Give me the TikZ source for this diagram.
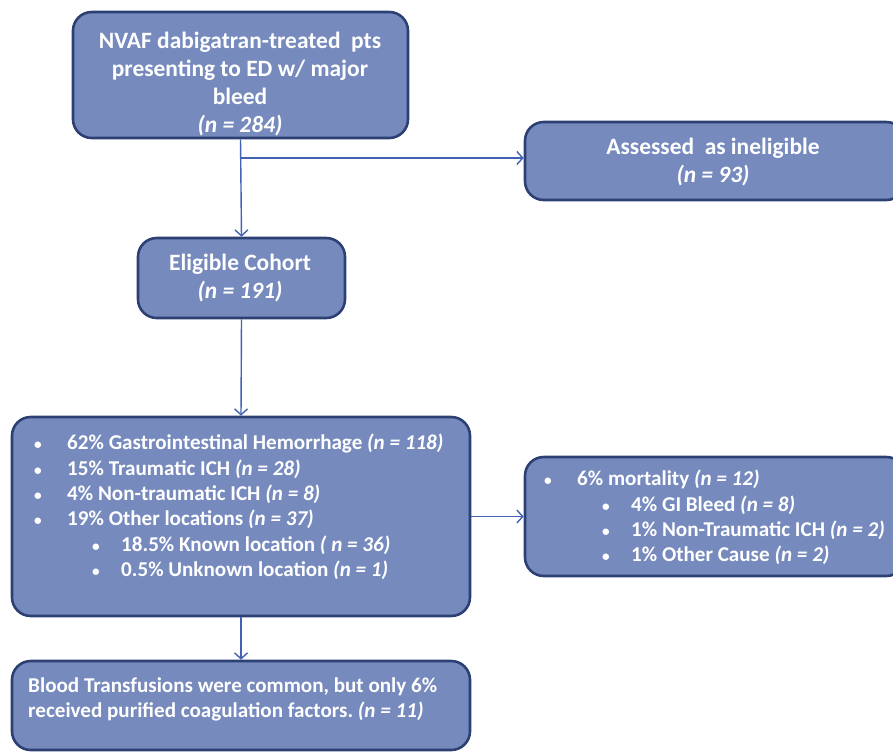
\documentclass[tikz,border=0pt]{standalone}
\usepackage{fontspec}
\setmainfont{Carlito}
\usetikzlibrary{arrows.meta}

\definecolor{boxfill}{RGB}{118,138,190}
\definecolor{boxline}{RGB}{45,64,115}
\definecolor{flowline}{RGB}{66,98,182}

\tikzset{
  flowbox/.style={draw=boxline, fill=boxfill, line width=2.2pt, rounded corners=16pt, inner sep=0pt},
  boxtext/.style={text=white, font=\fontsize{20}{23.8}\selectfont\bfseries, inner sep=0pt, align=center},
  listtext/.style={text=white, font=\fontsize{18}{21.6}\selectfont\bfseries, inner sep=0pt, align=left},
  flow/.style={draw=flowline, line width=1.2pt, -{Straight Barb[length=5pt,width=11pt]}},
}

\newcommand{\bul}[1]{\makebox[0.99cm][l]{\fontsize{13}{13}\selectfont\textbullet}#1}
\newcommand{\subbul}[1]{\hspace{1.74cm}\makebox[0.87cm][l]{\fontsize{13}{13}\selectfont\textbullet}#1}
\frenchspacing

\begin{document}
\begin{tikzpicture}[x=0.03cm, y=-0.03cm]
    \useasboundingbox (0,0) rectangle (893,752);

    % Boxes
    \node[flowbox, minimum width=10.05cm, minimum height=3.78cm] (pts) at (240.5,75) {};
    \node[flowbox, minimum width=11.4cm, minimum height=2.34cm] (inel) at (715,161) {};
    \node[flowbox, minimum width=6.21cm, minimum height=2.4cm] (elig) at (241.5,278) {};
    \node[flowbox, minimum width=13.74cm, minimum height=5.97cm] (sites) at (241,516.5) {};
    \node[flowbox, minimum width=11.4cm, minimum height=3.57cm] (mort) at (715,516.5) {};
    \node[flowbox, minimum width=13.74cm, minimum height=2.67cm] (trans) at (241,705.5) {};

    % Texts
    \node[boxtext] (ptstext) at (240,84) {NVAF dabigatran-treated\ \ pts\\ presenting to ED w/ major\\ bleed\\ \textit{(n = 284)}};
    \node[boxtext] (ineltext) at (713,162) {Assessed\ \ as ineligible\\ \textit{(n = 93)}};
    \node[boxtext] (eligtext) at (240,278) {Eligible Cohort\\ \textit{(n = 191)}};

    \node[listtext, anchor=north west] (sitestext) at (34,434) {%
      \bul{62\% Gastrointestinal Hemorrhage \textit{(n = 118)}}\\
      \bul{15\% Traumatic ICH \textit{(n = 28)}}\\
      \bul{4\% Non-traumatic ICH \textit{(n = 8)}}\\
      \bul{19\% Other locations \textit{(n = 37)}}\\
      \subbul{18.5\% Known location \textit{( n = 36)}}\\
      \subbul{0.5\% Unknown location \textit{(n = 1)}}};

    \node[listtext, anchor=north west] (morttext) at (544,470) {%
      \bul{6\% mortality \textit{(n = 12)}}\\
      \subbul{4\% GI Bleed \textit{(n = 8)}}\\
      \subbul{1\% Non-Traumatic ICH \textit{(n = 2)}}\\
      \subbul{1\% Other Cause \textit{(n = 2)}}};

    \node[listtext, anchor=north west] (transtext) at (28,677) {%
      Blood Transfusions were common, but only 6\%\\
      received purified coagulation factors. \textit{(n = 11)}};

    % Connectors
    \coordinate (split) at (pts.south |- 0,158);
    \draw[flow] (pts.south) -- (elig.north);
    \draw[flow] (split) -- (split -| inel.west);
    \draw[flow] (elig.south) -- (sites.north);
    \draw[flow] (sites.east) -- (mort.west);
    \draw[flow] (sites.south) -- (trans.north);
\end{tikzpicture}
\end{document}
